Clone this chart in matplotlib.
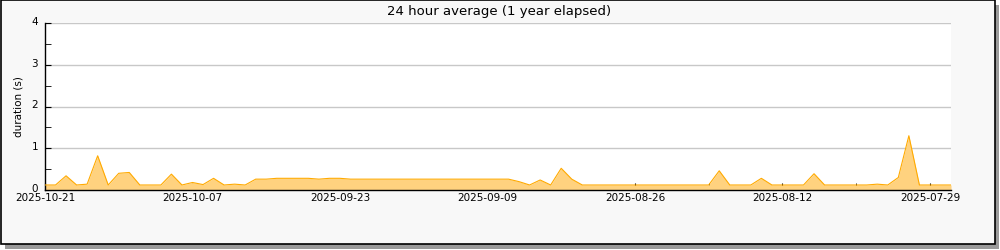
import datetime as dt
import numpy as np
import matplotlib
matplotlib.use('Agg')
import matplotlib.pyplot as plt
import matplotlib.dates as mdates
import matplotlib.transforms as mtransforms
from matplotlib.patches import Rectangle

# daily averages, newest first (2025-10-21 going back)
startDate = dt.date(2025, 10, 21)
durations = [
    0.12, 0.12, 0.34, 0.12, 0.14, 0.82, 0.12, 0.40, 0.42, 0.12,
    0.12, 0.12, 0.38, 0.12, 0.18, 0.13, 0.28, 0.12, 0.14, 0.12,
    0.26, 0.26, 0.28, 0.28, 0.28, 0.28, 0.26, 0.28, 0.28, 0.26,
    0.26, 0.26, 0.26, 0.26, 0.26, 0.26, 0.26, 0.26, 0.26, 0.26,
    0.26, 0.26, 0.26, 0.26, 0.26, 0.20, 0.12, 0.24, 0.12, 0.52,
    0.26, 0.12, 0.12, 0.12, 0.12, 0.12, 0.12, 0.12, 0.12, 0.12,
    0.12, 0.12, 0.12, 0.12, 0.46, 0.12, 0.12, 0.12, 0.28, 0.12,
    0.12, 0.12, 0.12, 0.39, 0.12, 0.12, 0.12, 0.12, 0.12, 0.14,
    0.12, 0.30, 1.30, 0.12, 0.12, 0.12, 0.12,
]
tickDates = ['2025-10-21', '2025-10-07', '2025-09-23', '2025-09-09',
             '2025-08-26', '2025-08-12', '2025-07-29']
endDate = dt.date(2025, 7, 27)

days = [startDate - dt.timedelta(days=i) for i in range(len(durations))]
x = mdates.date2num(days)

fig = plt.figure(figsize=(10, 2.5), dpi=100)
fig.patch.set_facecolor('white')

# framed panel with drop shadow
fig.patches.append(Rectangle((0.005, 0.004), 0.994, 0.976, transform=fig.transFigure,
                             facecolor='#9a9a9a', edgecolor='none', zorder=-2))
fig.patches.append(Rectangle((0.0005, 0.024), 0.994, 0.975, transform=fig.transFigure,
                             facecolor='#f8f8f8', edgecolor='black', linewidth=1.2, zorder=-1))

ax = fig.add_axes([0.045, 0.24, 0.906, 0.668])
ax.set_zorder(2)
ax.set_facecolor('white')

ax.fill_between(x, durations, 0, color='#ffd27f', linewidth=0, zorder=2)
ax.plot(x, durations, color='#ffaa00', linewidth=0.8, zorder=3)

ax.set_xlim(mdates.date2num(startDate), mdates.date2num(endDate))
ax.set_ylim(0, 4)

majors = mdates.date2num([dt.datetime.strptime(d, '%Y-%m-%d') for d in tickDates])
ax.set_xticks(majors)
ax.set_xticklabels(tickDates)
ax.set_xticks(majors[:-1] - 7, minor=True)
ax.set_yticks([0, 1, 2, 3, 4])
ax.set_yticks([0.5, 1.5, 2.5, 3.5], minor=True)

ax.tick_params(axis='both', which='both', direction='in', colors='black', labelsize=7.5)
ax.tick_params(axis='y', which='both', length=4, pad=5)
ax.tick_params(axis='x', which='both', length=5, pad=2)

# y labels sit slightly above their ticks
shift = mtransforms.ScaledTranslation(0, 2 / 100, fig.dpi_scale_trans)
for lbl in ax.get_yticklabels():
    lbl.set_transform(lbl.get_transform() + shift)

ax.grid(axis='y', which='major', color='#c8c8c8', linewidth=1, zorder=1)
ax.set_axisbelow(True)

ax.spines['top'].set_visible(False)
ax.spines['right'].set_visible(False)
ax.spines['left'].set_linewidth(1)
ax.spines['bottom'].set_linewidth(1)

ax.set_ylabel('duration (s)', fontsize=7.5, labelpad=6)
fig.text(0.499, 0.955, '24 hour average (1 year elapsed)', ha='center', va='center', fontsize=9.5)

plt.savefig('out.png', dpi=100)
